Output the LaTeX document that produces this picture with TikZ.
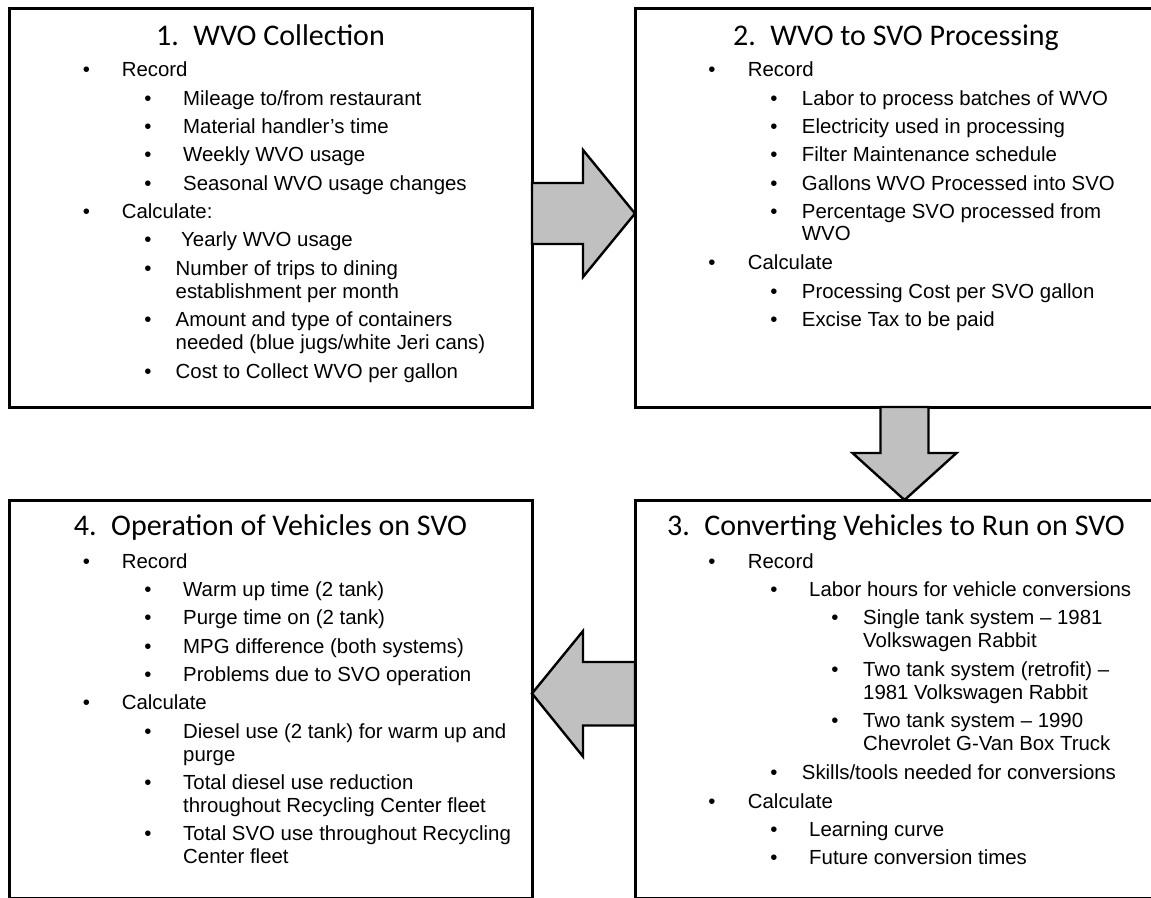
\documentclass[tikz,border=0pt]{standalone}
\usepackage{fontspec}
\setmainfont{Liberation Sans}
\newfontfamily\headfont{Carlito}
\usetikzlibrary{calc}
\definecolor{arrowgray}{RGB}{192,192,192}

\begin{document}
\begin{tikzpicture}[x=1pt,y=-1pt,
  panel/.style={draw=black, line width=3pt, rectangle, inner sep=0pt, outer sep=0pt, anchor=north west},
  blockarrow/.style={draw=black, line width=2.4pt, fill=arrowgray, line join=miter},
  head/.style={font=\headfont\fontsize{30}{36}\selectfont, anchor=base, inner sep=0pt},
  txt/.style={font=\fontsize{20.4}{24}\selectfont, anchor=base west, inner sep=0pt},
  bul/.style={font=\fontsize{20.4}{24}\selectfont, anchor=base, inner sep=0pt}]

\useasboundingbox (0,0) rectangle (1151,897);
\clip (0,0) rectangle (1151,897);

% the four panels
\node[panel, minimum width=523pt, minimum height=398.5pt] (b1) at (9,8.5) {};
\node[panel, minimum width=522pt, minimum height=398.5pt] (b2) at (635,8.5) {};
\node[panel, minimum width=523pt, minimum height=398pt] (b4) at (9,500) {};
\node[panel, minimum width=522pt, minimum height=398pt] (b3) at (635,500) {};

% block arrows between the panels
\path (b1.north east) ++(0,205) coordinate (ra-tail);
\path (b2.north west) ++(0,205) coordinate (ra-tip);
\draw[blockarrow] (ra-tail) ++(0,-30.5) -- ++(51,0) -- ++(0,-33) -- (ra-tip)
  -- ++(-52,63.5) -- ++(0,-33) -- ++(-51,0) -- cycle;

\path (b2.south west) ++(269.5,0) coordinate (da-tail);
\path (b3.north west) ++(269.5,0) coordinate (da-tip);
\draw[blockarrow] (da-tail) ++(-24,0) -- ++(0,46) -- ++(-28,0) -- (da-tip)
  -- ++(52,-47) -- ++(-28,0) -- ++(0,-46) -- cycle;

\path (b3.north west) ++(0,193.5) coordinate (la-tail);
\path (b4.north east) ++(0,193.5) coordinate (la-tip);
\draw[blockarrow] (la-tail) ++(0,-31.5) -- ++(-52,0) -- ++(0,-31) -- (la-tip)
  -- ++(51,63) -- ++(0,-31) -- ++(52,0) -- cycle;

% panel 1
\begin{scope}[shift={(b1.north west)}]
\node[head] (p1h) at (261.5,36.5) {1.\hspace{14.5pt}WVO Collection};
\node[bul] (p1b1) at (77.5,67.8) {•};
\node[txt] (p1t1) at (112.6,67.8) {Record};
\node[bul] (p1b2) at (139,96.8) {•};
\node[txt] (p1t2) at (174,96.8) {Mileage to/from restaurant};
\node[bul] (p1b3) at (139,124.8) {•};
\node[txt] (p1t3) at (174,124.8) {Material handler’s time};
\node[bul] (p1b4) at (139,152.8) {•};
\node[txt] (p1t4) at (174,152.8) {Weekly WVO usage};
\node[bul] (p1b5) at (139,181.8) {•};
\node[txt] (p1t5) at (174,181.8) {Seasonal WVO usage changes};
\node[bul] (p1b6) at (77.5,209.8) {•};
\node[txt] (p1t6) at (112.6,209.8) {Calculate:};
\node[bul] (p1b7) at (139,237.8) {•};
\node[txt] (p1t7) at (172,237.8) {Yearly WVO usage};
\node[bul] (p1b8) at (139,266.8) {•};
\node[txt] (p1t8) at (166.5,266.8) {Number of trips to dining};
\node[txt] (p1t8b) at (166.5,289.8) {establishment per month};
\node[bul] (p1b9) at (139,317.8) {•};
\node[txt] (p1t9) at (166.5,317.8) {Amount and type of containers};
\node[txt] (p1t9b) at (166.5,340.8) {needed (blue jugs/white Jeri cans)};
\node[bul] (p1b10) at (139,369.5) {•};
\node[txt] (p1t10) at (166.5,369.5) {Cost to Collect WVO per gallon};
\end{scope}

% panel 2
\begin{scope}[shift={(b2.north west)}]
\node[head] (p2h) at (261,36.5) {2.\hspace{14.5pt}WVO to SVO Processing};
\node[bul] (p2b1) at (77,67.8) {•};
\node[txt] (p2t1) at (112.7,67.8) {Record};
\node[bul] (p2b2) at (139,96.8) {•};
\node[txt] (p2t2) at (166.7,96.8) {Labor to process batches of WVO};
\node[bul] (p2b3) at (139,124.8) {•};
\node[txt] (p2t3) at (166.7,124.8) {Electricity used in processing};
\node[bul] (p2b4) at (139,152.8) {•};
\node[txt] (p2t4) at (166.7,152.8) {Filter Maintenance schedule};
\node[bul] (p2b5) at (139,181.8) {•};
\node[txt] (p2t5) at (166.7,181.8) {Gallons WVO Processed into SVO};
\node[bul] (p2b6) at (139,209.8) {•};
\node[txt] (p2t6) at (166.7,209.8) {Percentage SVO processed from};
\node[txt] (p2t6b) at (166.7,231.8) {WVO};
\node[bul] (p2b7) at (77,260.8) {•};
\node[txt] (p2t7) at (112.7,260.8) {Calculate};
\node[bul] (p2b8) at (139,289.8) {•};
\node[txt] (p2t8) at (166.7,289.8) {Processing Cost per SVO gallon};
\node[bul] (p2b9) at (139,317.8) {•};
\node[txt] (p2t9) at (166.7,317.8) {Excise Tax to be paid};
\end{scope}

% panel 3
\begin{scope}[shift={(b3.north west)}]
\node[head] (p3h) at (261,35.5) {3.\hspace{14.5pt}Converting Vehicles to Run on SVO};
\node[bul] (p3b1) at (77,68) {•};
\node[txt] (p3t1) at (112.7,68) {Record};
\node[bul] (p3b2) at (139,96.3) {•};
\node[txt] (p3t2) at (174,96.3) {Labor hours for vehicle conversions};
\node[bul] (p3b3) at (200,124.3) {•};
\node[txt] (p3t3) at (228,124.3) {Single tank system – 1981};
\node[txt] (p3t3b) at (228,147.3) {Volkswagen Rabbit};
\node[bul] (p3b4) at (200,176.3) {•};
\node[txt] (p3t4) at (228,176.3) {Two tank system (retrofit) –};
\node[txt] (p3t4b) at (228,199.3) {1981 Volkswagen Rabbit};
\node[bul] (p3b5) at (200,227.5) {•};
\node[txt] (p3t5) at (228,227.5) {Two tank system – 1990};
\node[txt] (p3t5b) at (228,250.5) {Chevrolet G-Van Box Truck};
\node[bul] (p3b6) at (139,279.6) {•};
\node[txt] (p3t6) at (166.7,279.6) {Skills/tools needed for conversions};
\node[bul] (p3b7) at (77,308) {•};
\node[txt] (p3t7) at (112.7,308) {Calculate};
\node[bul] (p3b8) at (139,336.3) {•};
\node[txt] (p3t8) at (174,336.3) {Learning curve};
\node[bul] (p3b9) at (139,364) {•};
\node[txt] (p3t9) at (174,364) {Future conversion times};
\end{scope}

% panel 4
\begin{scope}[shift={(b4.north west)}]
\node[head] (p4h) at (261.5,35.5) {4.\hspace{14.5pt}Operation of Vehicles on SVO};
\node[bul] (p4b1) at (77.5,68) {•};
\node[txt] (p4t1) at (112.6,68) {Record};
\node[bul] (p4b2) at (139,96.4) {•};
\node[txt] (p4t2) at (174,96.4) {Warm up time (2 tank)};
\node[bul] (p4b3) at (139,124.7) {•};
\node[txt] (p4t3) at (174,124.7) {Purge time on (2 tank)};
\node[bul] (p4b4) at (139,153) {•};
\node[txt] (p4t4) at (174,153) {MPG difference (both systems)};
\node[bul] (p4b5) at (139,181.4) {•};
\node[txt] (p4t5) at (174,181.4) {Problems due to SVO operation};
\node[bul] (p4b6) at (77.5,209.7) {•};
\node[txt] (p4t6) at (112.6,209.7) {Calculate};
\node[bul] (p4b7) at (139,238) {•};
\node[txt] (p4t7) at (174,238) {Diesel use (2 tank) for warm up and};
\node[txt] (p4t7b) at (174,261) {purge};
\node[bul] (p4b8) at (139,289.4) {•};
\node[txt] (p4t8) at (174,289.4) {Total diesel use reduction};
\node[txt] (p4t8b) at (174,312.4) {throughout Recycling Center fleet};
\node[bul] (p4b9) at (139,340.8) {•};
\node[txt] (p4t9) at (174,340.8) {Total SVO use throughout Recycling};
\node[txt] (p4t9b) at (174,363.8) {Center fleet};
\end{scope}
\end{tikzpicture}
\end{document}
